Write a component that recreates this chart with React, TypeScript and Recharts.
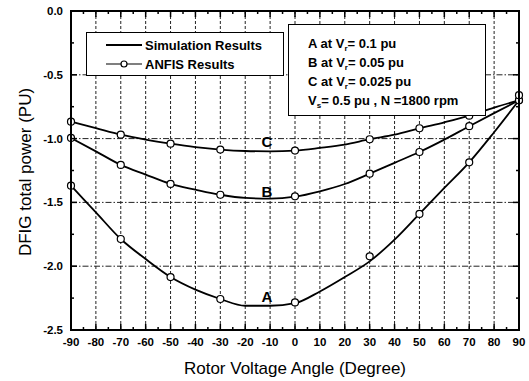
import React from "react";
import { LineChart, Line, XAxis, YAxis } from "recharts";

// rotor voltage angle (deg), simulation sampled every 10 deg
const angles = [-90, -80, -70, -60, -50, -40, -30, -20, -10, 0, 10, 20, 30, 40, 50, 60, 70, 80, 90];
const simA = [-1.369, -1.578, -1.787, -1.944, -2.085, -2.184, -2.257, -2.31, -2.31, -2.29, -2.198, -2.085, -1.962, -1.792, -1.59, -1.387, -1.186, -0.95, -0.7];
const simB = [-0.995, -1.1, -1.206, -1.282, -1.355, -1.4, -1.44, -1.465, -1.47, -1.455, -1.413, -1.356, -1.275, -1.19, -1.105, -1.008, -0.903, -0.8, -0.7];
const simC = [-0.867, -0.918, -0.969, -1.008, -1.04, -1.067, -1.086, -1.097, -1.1, -1.094, -1.073, -1.047, -1.005, -0.969, -0.919, -0.872, -0.82, -0.757, -0.7];

// ANFIS points
const anfisAngles = [-90, -70, -50, -30, 0, 30, 50, 70, 90];
const anfisA = [-1.369, -1.787, -2.085, -2.257, -2.284, -1.923, -1.59, -1.186, -0.7];
const anfisB = [-0.995, -1.206, -1.355, -1.44, -1.452, -1.275, -1.105, -0.903, -0.7];
const anfisC = [-0.867, -0.969, -1.04, -1.086, -1.094, -1.005, -0.919, -0.82, -0.66];

const xTicks = [-90, -85, -80, -75, -70, -65, -60, -55, -50, -45, -40, -35, -30, -25, -20, -15, -10, -5, 0, 5, 10, 15, 20, 25, 30, 35, 40, 45, 50, 55, 60, 65, 70, 75, 80, 85, 90];
const yTicks = [-2.5, -2.25, -2.0, -1.75, -1.5, -1.25, -1.0, -0.75, -0.5, -0.25, 0];
const xGrid = [-80, -70, -60, -50, -40, -30, -20, -10, 0, 10, 20, 30, 40, 50, 60, 70, 80];
const yGrid = [-2.0, -1.5, -1.0, -0.5];

const data = angles.map((a, i) => {
  const k = anfisAngles.indexOf(a);
  return {
    angle: a,
    simA: simA[i],
    simB: simB[i],
    simC: simC[i],
    anfisA: k >= 0 ? anfisA[k] : null,
    anfisB: k >= 0 ? anfisB[k] : null,
    anfisC: k >= 0 ? anfisC[k] : null,
  };
});

const W = 529;
const H = 381;
// plot box, matches the chart margins / axis sizes below
const L = 71;
const R = 519;
const T = 11;
const B = 330;
const px = (v: number) => L + ((v + 90) / 180) * (R - L);
const py = (v: number) => T + (-v / 2.5) * (B - T);

const FONT = "Arial, Liberation Sans, sans-serif";
const isMajorX = (v: number) => v % 10 === 0;
const isMajorY = (v: number) => Math.abs(Math.round(v * 2) - v * 2) < 1e-6;

const BottomTick = ({ x, y, payload }: any) =>
  isMajorX(payload.value) ? (
    <text x={x} y={y + 16} textAnchor="middle" fontFamily={FONT} fontWeight="bold" fontSize={11.5} fill="#000">
      {payload.value}
    </text>
  ) : (
    <g />
  );

const LeftTick = ({ x, y, payload }: any) =>
  isMajorY(payload.value) ? (
    <text x={x - 8} y={y + 4} textAnchor="end" fontFamily={FONT} fontWeight="bold" fontSize={11.5} fill="#000">
      {payload.value.toFixed(1)}
    </text>
  ) : (
    <g />
  );

// dashed grid, under the transparent chart svg
function Grid() {
  return (
    <svg width={W} height={H} style={{ position: "absolute", left: 0, top: 0 }}>
      {xGrid.map((v) => (
        <line key={"gx" + v} x1={px(v)} x2={px(v)} y1={T} y2={B} stroke="#222" strokeWidth={1} strokeDasharray="3 2" />
      ))}
      {yGrid.map((v) => (
        <line key={"gy" + v} x1={L} x2={R} y1={py(v)} y2={py(v)} stroke="#222" strokeWidth={1} strokeDasharray="6 2 1.5 2" />
      ))}
    </svg>
  );
}

const bold = { fontFamily: FONT, fontWeight: "bold" as const, fontSize: 13, fill: "#000" };

const Vsub = ({ x, y, s, rest, lead }: { x: number; y: number; s: string; rest: string; lead: string }) => (
  <text x={x} y={y} {...bold}>
    {lead}V
    <tspan fontSize={8} dy={3}>{s}</tspan>
    <tspan dy={-3}>{rest}</tspan>
  </text>
);

// frame, inward ticks, labels and boxes, above the chart
function Overlay() {
  return (
    <svg width={W} height={H} style={{ position: "absolute", left: 0, top: 0 }}>
      {xTicks.map((v) => {
        const len = isMajorX(v) ? 6 : 3;
        return (
          <g key={"tx" + v}>
            <line x1={px(v)} x2={px(v)} y1={B} y2={B - len} stroke="#000" strokeWidth={1.5} />
            <line x1={px(v)} x2={px(v)} y1={T} y2={T + len} stroke="#000" strokeWidth={1.5} />
          </g>
        );
      })}
      {yTicks.map((v) => {
        const len = isMajorY(v) ? 6 : 3;
        return (
          <g key={"ty" + v}>
            <line x1={L} x2={L + len} y1={py(v)} y2={py(v)} stroke="#000" strokeWidth={1.5} />
            <line x1={R} x2={R - len} y1={py(v)} y2={py(v)} stroke="#000" strokeWidth={1.5} />
          </g>
        );
      })}
      <rect x={L} y={T} width={R - L} height={B - T} fill="none" stroke="#000" strokeWidth={2} />

      {/* curve labels */}
      <text x={267} y={147} textAnchor="middle" {...bold} fontSize={15}>C</text>
      <text x={267} y={197} textAnchor="middle" {...bold} fontSize={15}>B</text>
      <text x={267} y={302} textAnchor="middle" {...bold} fontSize={15}>A</text>

      {/* legend */}
      <rect x={86.5} y={32.5} width={197} height={43} fill="#fff" stroke="#000" strokeWidth={1} />
      <line x1={106} x2={142} y1={45} y2={45} stroke="#000" strokeWidth={1.8} />
      <line x1={106} x2={142} y1={64} y2={64} stroke="#000" strokeWidth={1.2} />
      <circle cx={124} cy={64} r={3} fill="#fff" stroke="#000" strokeWidth={1.2} />
      <text x={145} y={49.5} {...bold}>Simulation Results</text>
      <text x={145} y={68.5} {...bold}>ANFIS Results</text>

      {/* parameter box */}
      <rect x={288.5} y={24.5} width={197} height={91} fill="#fff" stroke="#000" strokeWidth={1} />
      <Vsub x={308} y={47.5} lead="A at " s="r" rest="= 0.1 pu" />
      <Vsub x={308} y={67} lead="B at " s="r" rest="= 0.05 pu" />
      <Vsub x={308} y={85.5} lead="C at " s="r" rest="= 0.025 pu" />
      <Vsub x={308} y={104.5} lead="" s="s" rest="= 0.5 pu , N =1800 rpm" />

      {/* axis titles */}
      <text x={295} y={374} textAnchor="middle" fontFamily={FONT} fontSize={17} fill="#000">
        Rotor Voltage Angle (Degree)
      </text>
      <text x={31} y={172} textAnchor="middle" fontFamily={FONT} fontSize={17} fill="#000" transform="rotate(-90 31 172)">
        DFIG total power (PU)
      </text>
    </svg>
  );
}

const dotStyle = { r: 3.5, fill: "#fff", stroke: "#000", strokeWidth: 1.2 };

export default function App() {
  return (
    <div style={{ position: "absolute", left: 0, top: 0, width: W, height: H, background: "#fff" }}>
      <Grid />
      <div style={{ position: "absolute", left: 0, top: 0 }}>
        <LineChart width={W} height={H} data={data} margin={{ top: T, right: W - R, bottom: 0, left: 0 }}>
          <XAxis
            dataKey="angle"
            type="number"
            domain={[-90, 90]}
            ticks={xTicks}
            interval={0}
            height={H - B}
            tickSize={0}
            tickMargin={0}
            tickLine={false}
            tick={BottomTick}
            axisLine={{ stroke: "#000", strokeWidth: 2 }}
          />
          <YAxis
            type="number"
            domain={[-2.5, 0]}
            ticks={yTicks}
            interval={0}
            width={L}
            tickSize={0}
            tickMargin={0}
            tickLine={false}
            tick={LeftTick}
            axisLine={{ stroke: "#000", strokeWidth: 2 }}
          />
          <Line dataKey="simA" type="monotone" stroke="#000" strokeWidth={1.8} dot={false} isAnimationActive={false} />
          <Line dataKey="simB" type="monotone" stroke="#000" strokeWidth={1.8} dot={false} isAnimationActive={false} />
          <Line dataKey="simC" type="monotone" stroke="#000" strokeWidth={1.8} dot={false} isAnimationActive={false} />
          <Line dataKey="anfisA" stroke="none" dot={dotStyle} isAnimationActive={false} />
          <Line dataKey="anfisB" stroke="none" dot={dotStyle} isAnimationActive={false} />
          <Line dataKey="anfisC" stroke="none" dot={dotStyle} isAnimationActive={false} />
        </LineChart>
      </div>
      <Overlay />
    </div>
  );
}
